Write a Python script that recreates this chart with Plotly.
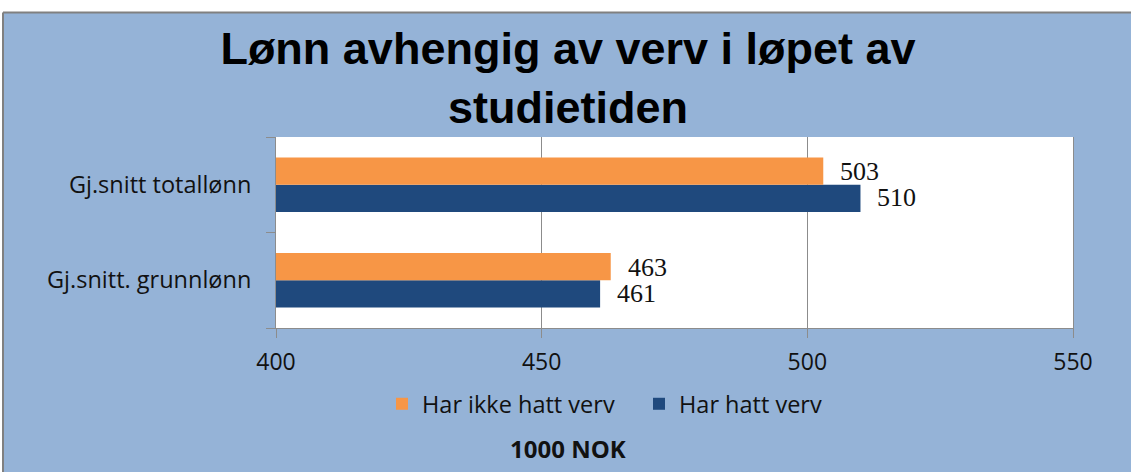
import plotly.graph_objects as go

categories = ["Gj.snitt totallønn", "Gj.snitt. grunnlønn"]
har_ikke_hatt_verv = [503, 463]
har_hatt_verv = [510, 461]
series_names = ["Har ikke hatt verv", "Har hatt verv"]
x_ticks = [400, 450, 500, 550]
title_text = "Lønn avhengig av verv i løpet av<br>studietiden"
axis_unit = "1000 NOK"

ORANGE = "#F79646"
NAVY = "#1F497D"
BG = "#95B3D7"
GRID = "#8C8C8C"

W, H = 1131, 472
L, R, T, B = 276, 58, 137, 144
PW, PH = W - L - R, H - T - B


def px_x(p):
    return (p - L) / PW


def px_y(p):
    return (H - B - p) / PH


fig = go.Figure()
# blue drawn first so that it sits in the lower half of each group
fig.add_trace(go.Bar(
    y=categories, x=har_hatt_verv, name=series_names[1], orientation="h",
    marker=dict(color=NAVY, line=dict(width=0)), legendrank=2,
))
fig.add_trace(go.Bar(
    y=categories, x=har_ikke_hatt_verv, name=series_names[0], orientation="h",
    marker=dict(color=ORANGE, line=dict(width=0)), legendrank=1,
))

annotations = []
for cat, v in zip(categories, har_ikke_hatt_verv):
    annotations.append(dict(x=v, y=cat, xref="x", yref="y", text=str(v),
                            showarrow=False, xanchor="left", yanchor="middle",
                            xshift=15, yshift=13,
                            font=dict(family="Liberation Serif", size=26, color="#111")))
for cat, v in zip(categories, har_hatt_verv):
    annotations.append(dict(x=v, y=cat, xref="x", yref="y", text=str(v),
                            showarrow=False, xanchor="left", yanchor="middle",
                            xshift=15, yshift=-13,
                            font=dict(family="Liberation Serif", size=26, color="#111")))
annotations.append(dict(x=px_x(568), y=px_y(448), xref="paper", yref="paper",
                        text="<b>" + axis_unit + "</b>", showarrow=False,
                        xanchor="center", yanchor="middle",
                        font=dict(family="Open Sans", size=24, color="#111")))

shapes = [
    # white page strip above and left of the chart area
    dict(type="rect", xref="paper", yref="paper", x0=px_x(-20), x1=px_x(W + 20),
         y0=px_y(12), y1=px_y(-20), fillcolor="white", line=dict(width=0), layer="above"),
    dict(type="rect", xref="paper", yref="paper", x0=px_x(-20), x1=px_x(3),
         y0=px_y(H + 20), y1=px_y(-20), fillcolor="white", line=dict(width=0), layer="above"),
    dict(type="line", xref="paper", yref="paper", x0=px_x(3), x1=px_x(W + 20),
         y0=px_y(12.5), y1=px_y(12.5), line=dict(color="#808080", width=2), layer="above"),
    dict(type="line", xref="paper", yref="paper", x0=px_x(3), x1=px_x(3),
         y0=px_y(12.5), y1=px_y(H + 20), line=dict(color="#808080", width=2), layer="above"),
]

fig.update_layout(
    width=W, height=H,
    margin=dict(l=L, r=R, t=T, b=B, pad=0),
    paper_bgcolor=BG, plot_bgcolor="white",
    barmode="group", bargap=0.43, bargroupgap=0,
    title=dict(text="<b>" + title_text + "</b>", x=568 / W, xanchor="center",
               xref="container", yref="container", y=1 - 64 / H, yanchor="top",
               font=dict(family="Liberation Sans", size=45, color="black")),
    showlegend=True,
    legend=dict(orientation="h", x=px_x(382), y=px_y(404), xref="paper", yref="paper",
                xanchor="left", yanchor="middle", bgcolor="rgba(0,0,0,0)",
                font=dict(family="Open Sans", size=23.5, color="#111"),
                entrywidth=212, entrywidthmode="pixels", traceorder="normal"),
    annotations=annotations,
    shapes=shapes,
    xaxis=dict(range=[x_ticks[0], x_ticks[-1]], tickvals=x_ticks, showgrid=True,
               gridcolor=GRID, gridwidth=1, showline=True, linecolor=GRID, linewidth=1,
               ticks="outside", ticklen=9, tickcolor=GRID, ticklabelstandoff=4,
               tickfont=dict(family="Open Sans", size=23, color="#111"),
               zeroline=False, fixedrange=True),
    yaxis=dict(categoryorder="array", categoryarray=categories[::-1],
               showline=True, mirror=True, linecolor=GRID, linewidth=1,
               ticks="outside", ticklen=9, tickcolor=GRID, tickson="boundaries",
               ticklabelstandoff=19, showgrid=False,
               tickfont=dict(family="Open Sans", size=23.5, color="#111"), fixedrange=True),
)

fig.write_html("out.html", config={"displayModeBar": False},
               post_script="document.body.style.margin='0px';")
